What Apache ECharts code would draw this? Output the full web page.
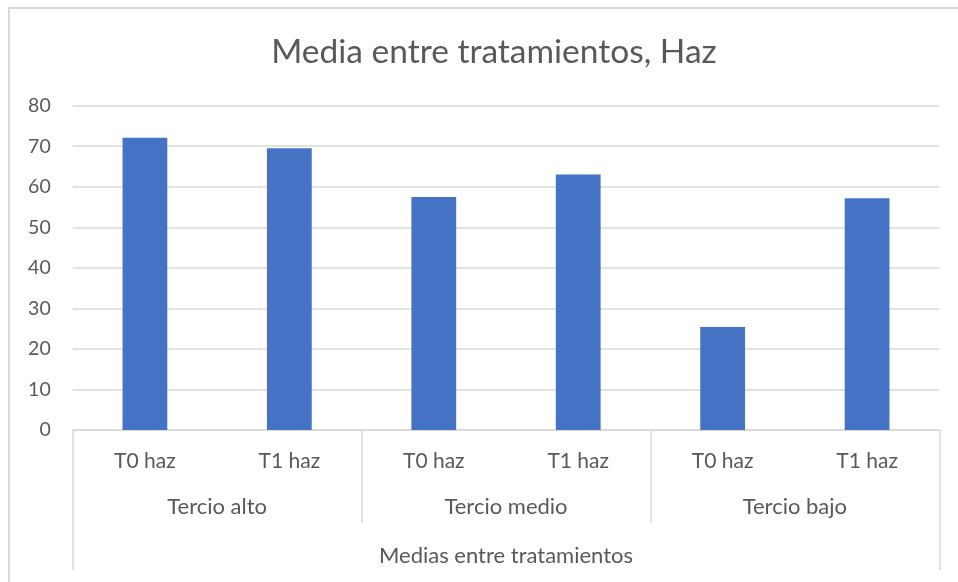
<!DOCTYPE html>
<html>
<head>
<meta charset="utf-8">
<title>Media entre tratamientos, Haz</title>
<script src="https://cdn.jsdelivr.net/npm/echarts@6/dist/echarts.min.js"></script>
<style>
  html, body { margin: 0; padding: 0; background: #fff; }
  #chart { width: 958px; height: 582px; }
</style>
</head>
<body>
<div id="chart"></div>
<script>
// Data
const treatments = ['T0 haz', 'T1 haz', 'T0 haz', 'T1 haz', 'T0 haz', 'T1 haz'];
const thirds = ['Tercio alto', 'Tercio medio', 'Tercio bajo'];
const outerLabel = ['Medias entre tratamientos'];
const means = [72.1, 69.5, 57.5, 63.0, 25.4, 57.2];
const yTicks = { min: 0, max: 80, interval: 10 };

const textColor = '#595959';
const lineColor = '#d9d9d9';
const font = 'Lato, "Open Sans", sans-serif';

const chart = echarts.init(document.getElementById('chart'), null, { renderer: 'canvas' });

const option = {
    backgroundColor: '#fff',
    animation: false,
    title: {
        text: 'Media entre tratamientos, Haz',
        left: 489,
        textAlign: 'center',
        top: 30,
        textStyle: { color: textColor, fontFamily: font, fontSize: 33.5, fontWeight: 'normal' }
    },
    graphic: [{
        // chart area border (runs off the right and bottom of the capture)
        type: 'rect',
        silent: true,
        shape: { x: 9, y: 8, width: 1200, height: 900 },
        style: { fill: 'none', stroke: lineColor, lineWidth: 2 }
    }],
    grid: { left: 72.7, right: 18.7, top: 105.7, bottom: 152 },
    xAxis: [
        {
            type: 'category',
            data: treatments,
            axisLine: { show: true, lineStyle: { color: lineColor, width: 1.5 } },
            axisTick: { show: false },
            axisLabel: { color: textColor, fontFamily: font, fontSize: 21, margin: 21 }
        },
        {
            type: 'category',
            data: thirds,
            position: 'bottom',
            axisLine: { show: false },
            axisTick: { show: true, length: 93, lineStyle: { color: lineColor, width: 1.5 } },
            axisLabel: { color: textColor, fontFamily: font, fontSize: 22, margin: 66 }
        },
        {
            type: 'category',
            data: outerLabel,
            position: 'bottom',
            axisLine: { show: false },
            axisTick: { show: true, length: 140, lineStyle: { color: lineColor, width: 1.5 } },
            axisLabel: { color: textColor, fontFamily: font, fontSize: 22, margin: 115 }
        }
    ],
    yAxis: {
        type: 'value',
        min: yTicks.min,
        max: yTicks.max,
        interval: yTicks.interval,
        axisLine: { show: false },
        axisTick: { show: false },
        axisLabel: { color: textColor, fontFamily: font, fontSize: 19.5, margin: 22 },
        splitLine: { lineStyle: { color: lineColor, width: 1.5 } }
    },
    series: [{
        type: 'bar',
        xAxisIndex: 0,
        data: means,
        barWidth: '31%',
        itemStyle: { color: '#4472c4' }
    }]
};

chart.setOption(option);
window.addEventListener('resize', () => chart.resize());
</script>
</body>
</html>
